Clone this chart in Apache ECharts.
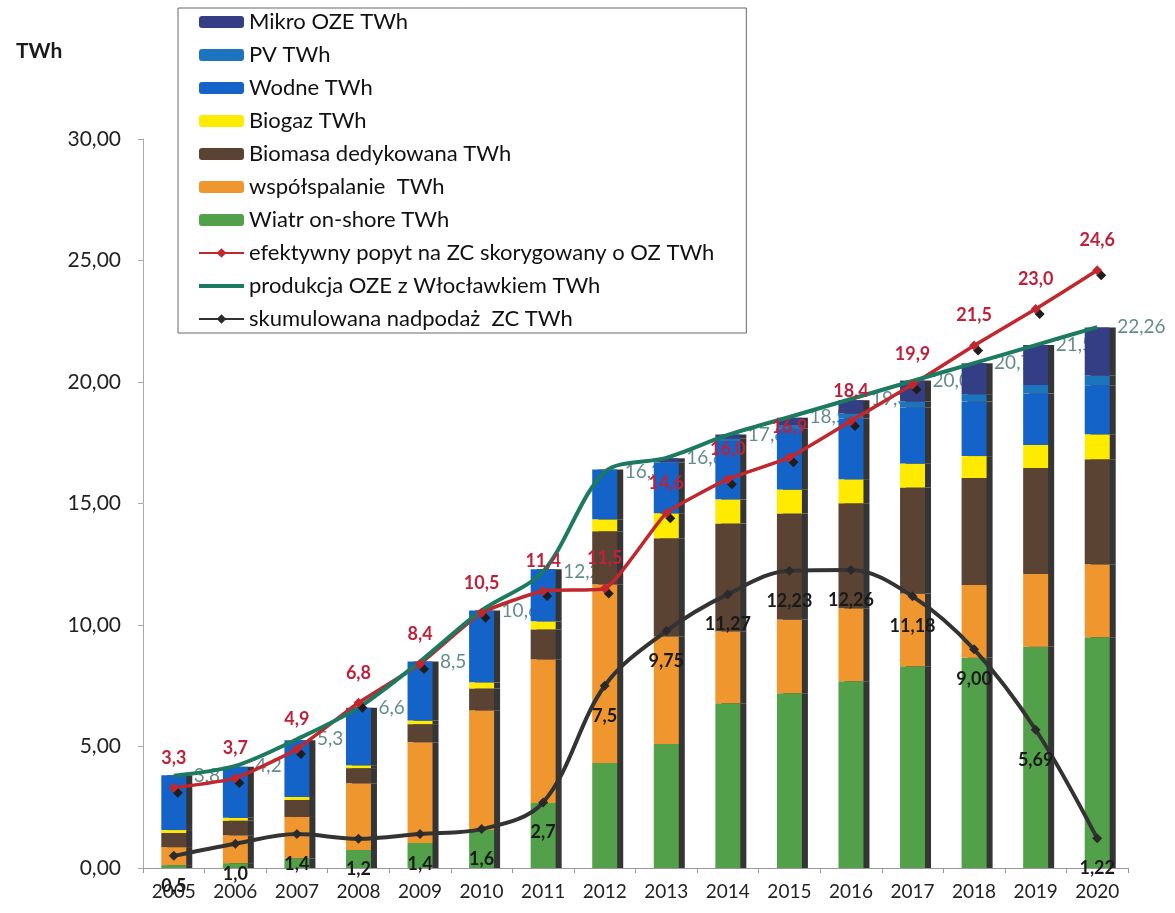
<!DOCTYPE html>
<html>
<head>
<meta charset="utf-8">
<script src="https://cdn.jsdelivr.net/npm/echarts@6/dist/echarts.min.js"></script>
<style>
  html, body { margin: 0; padding: 0; background: #fff; }
  #chart { width: 1175px; height: 913px; }
</style>
</head>
<body>
<div id="chart"></div>
<script>
const years = ['2005', '2006', '2007', '2008', '2009', '2010', '2011', '2012',
  '2013', '2014', '2015', '2016', '2017', '2018', '2019', '2020']

// stacked bars, bottom to top
const wiatr = [0.12, 0.2, 0.4, 0.74, 1.03, 1.56, 2.67, 4.32, 5.1, 6.78, 7.19, 7.69, 8.3, 8.65, 9.1, 9.5]
const wspolspalanie = [0.74, 1.15, 1.7, 2.75, 4.15, 4.93, 5.92, 7.36, 4.44, 2.96, 3.04, 3.0, 3.0, 3.0, 3.0, 3.0]
const biomasa = [0.58, 0.6, 0.7, 0.62, 0.74, 0.9, 1.23, 2.18, 4.03, 4.44, 4.36, 4.32, 4.36, 4.4, 4.36, 4.32]
const biogaz = [0.12, 0.12, 0.12, 0.12, 0.15, 0.25, 0.33, 0.49, 1.03, 0.99, 0.99, 0.99, 0.99, 0.9, 0.95, 1.03]
const wodne = [2.26, 2.1, 2.34, 2.36, 2.43, 2.96, 2.14, 2.05, 2.08, 2.4, 2.5, 2.5, 2.3, 2.25, 2.12, 2.02]
const pv = [0, 0, 0, 0, 0, 0, 0, 0, 0.03, 0.1, 0.15, 0.2, 0.25, 0.3, 0.35, 0.4]
const mikro = [0, 0, 0, 0, 0, 0, 0, 0, 0.15, 0.17, 0.3, 0.55, 0.86, 1.27, 1.64, 1.97]

// lines
const popyt = [3.3, 3.7, 4.9, 6.8, 8.4, 10.5, 11.4, 11.5, 14.6, 16.0, 16.9, 18.4, 19.9, 21.5, 23.0, 24.6]
const produkcja = [3.8, 4.2, 5.3, 6.6, 8.5, 10.6, 12.2, 16.3, 16.88, 17.82, 18.56, 19.30, 20.04, 20.78, 21.52, 22.26]
const nadpodaz = [0.5, 1.0, 1.4, 1.2, 1.4, 1.6, 2.7, 7.5, 9.75, 11.27, 12.23, 12.26, 11.18, 9.00, 5.69, 1.22]
const labelDecimals = [1, 1, 1, 1, 1, 1, 1, 1, 2, 2, 2, 2, 2, 2, 2, 2]

const FONT = 'Lato'
const fmt = (v, d) => v.toFixed(d).replace('.', ',')

const barShadow = { shadowColor: '#353535', shadowOffsetX: 6, shadowOffsetY: 0, shadowBlur: 0 }

function bar (name, data, color) {
  return {
    name,
    type: 'bar',
    stack: 'oze',
    barWidth: 25,
    data,
    z: 2,
    itemStyle: Object.assign({ color }, barShadow)
  }
}

const chart = echarts.init(document.getElementById('chart'))

chart.setOption({
  backgroundColor: '#fff',
  animation: false,
  textStyle: { fontFamily: FONT },
  title: {
    text: 'TWh',
    left: 11,
    top: 36,
    textStyle: { fontFamily: FONT, fontSize: 21, fontWeight: 'bold', color: '#1a1a1a' }
  },
  legend: {
    orient: 'vertical',
    left: 178,
    top: 8,
    padding: [3, 32, 3, 20],
    itemWidth: 45,
    itemHeight: 12,
    itemGap: 11,
    backgroundColor: '#fff',
    borderColor: '#666',
    borderWidth: 1,
    borderRadius: 0,
    itemStyle: { shadowColor: 'transparent', shadowOffsetX: 0, shadowBlur: 0 },
    textStyle: { fontFamily: FONT, fontSize: 22, color: '#111', lineHeight: 22 },
    data: ['Mikro OZE TWh', 'PV TWh', 'Wodne TWh', 'Biogaz TWh', 'Biomasa dedykowana TWh',
      'współspalanie  TWh', 'Wiatr on-shore TWh',
      'efektywny popyt na ZC skorygowany o OZ TWh',
      { name: 'produkcja OZE z Włocławkiem TWh', icon: 'path://M0,0L45,0L45,4L0,4Z' },
      'skumulowana nadpodaż  ZC TWh']
  },
  grid: { left: 143, right: 47, top: 139, bottom: 45 },
  xAxis: {
    type: 'category',
    data: years,
    axisLine: { lineStyle: { color: '#999', width: 1 } },
    axisTick: { show: true, length: 5, lineStyle: { color: '#999' } },
    axisLabel: { fontFamily: FONT, fontSize: 19, color: '#222', margin: 14 }
  },
  yAxis: {
    type: 'value',
    min: 0,
    max: 30,
    interval: 5,
    splitLine: { show: false },
    axisLine: { show: true, lineStyle: { color: '#aaa', width: 1 } },
    axisTick: { show: true, length: 5, lineStyle: { color: '#aaa' } },
    axisLabel: {
      fontFamily: FONT, fontSize: 21, color: '#222', margin: 22,
      formatter: v => fmt(v, 2)
    }
  },
  series: [
    bar('Wiatr on-shore TWh', wiatr, '#52A04A'),
    bar('współspalanie  TWh', wspolspalanie, '#F0962E'),
    bar('Biomasa dedykowana TWh', biomasa, '#5B4333'),
    bar('Biogaz TWh', biogaz, '#FFEB00'),
    bar('Wodne TWh', wodne, '#1463C9'),
    bar('PV TWh', pv, '#1C74BF'),
    bar('Mikro OZE TWh', mikro, '#343E85'),
    {
      // labels of the production line sit behind the bars
      name: 'produkcja-labels',
      type: 'scatter',
      data: produkcja,
      symbolSize: 0,
      silent: true,
      z: 1,
      label: {
        show: true,
        position: 'right',
        distance: 20,
        fontFamily: FONT,
        fontSize: 19,
        color: '#3B6F6C',
        formatter: p => fmt(p.value, labelDecimals[p.dataIndex])
      }
    },
    {
      name: 'efektywny popyt na ZC skorygowany o OZ TWh',
      type: 'line',
      data: popyt,
      smooth: 0.15,
      z: 3,
      symbol: 'diamond',
      symbolSize: 10,
      lineStyle: { color: '#C1272D', width: 3.5 },
      itemStyle: { color: '#C1272D', shadowColor: '#1e1e1e', shadowOffsetX: 4, shadowOffsetY: 5, shadowBlur: 0 },
      label: {
        show: true,
        position: 'top',
        distance: 16,
        fontFamily: FONT,
        fontSize: 18,
        fontWeight: 'bold',
        color: '#C0213A',
        formatter: p => fmt(p.value, 1)
      }
    },
    {
      name: 'produkcja OZE z Włocławkiem TWh',
      type: 'line',
      data: produkcja,
      smooth: 0.3,
      z: 3,
      symbol: 'none',
      lineStyle: { color: '#1B7A5F', width: 4 },
      itemStyle: { color: '#1B7A5F' }
    },
    {
      name: 'skumulowana nadpodaż  ZC TWh',
      type: 'line',
      data: nadpodaz,
      smooth: 0.35,
      z: 3,
      symbol: 'diamond',
      symbolSize: 10,
      lineStyle: { color: '#333', width: 4 },
      itemStyle: { color: '#2a2a2a' },
      label: {
        show: true,
        position: 'bottom',
        distance: 16,
        fontFamily: FONT,
        fontSize: 18,
        fontWeight: 'bold',
        color: '#1a1a1a',
        formatter: p => fmt(p.value, labelDecimals[p.dataIndex])
      }
    }
  ]
})
</script>
</body>
</html>
